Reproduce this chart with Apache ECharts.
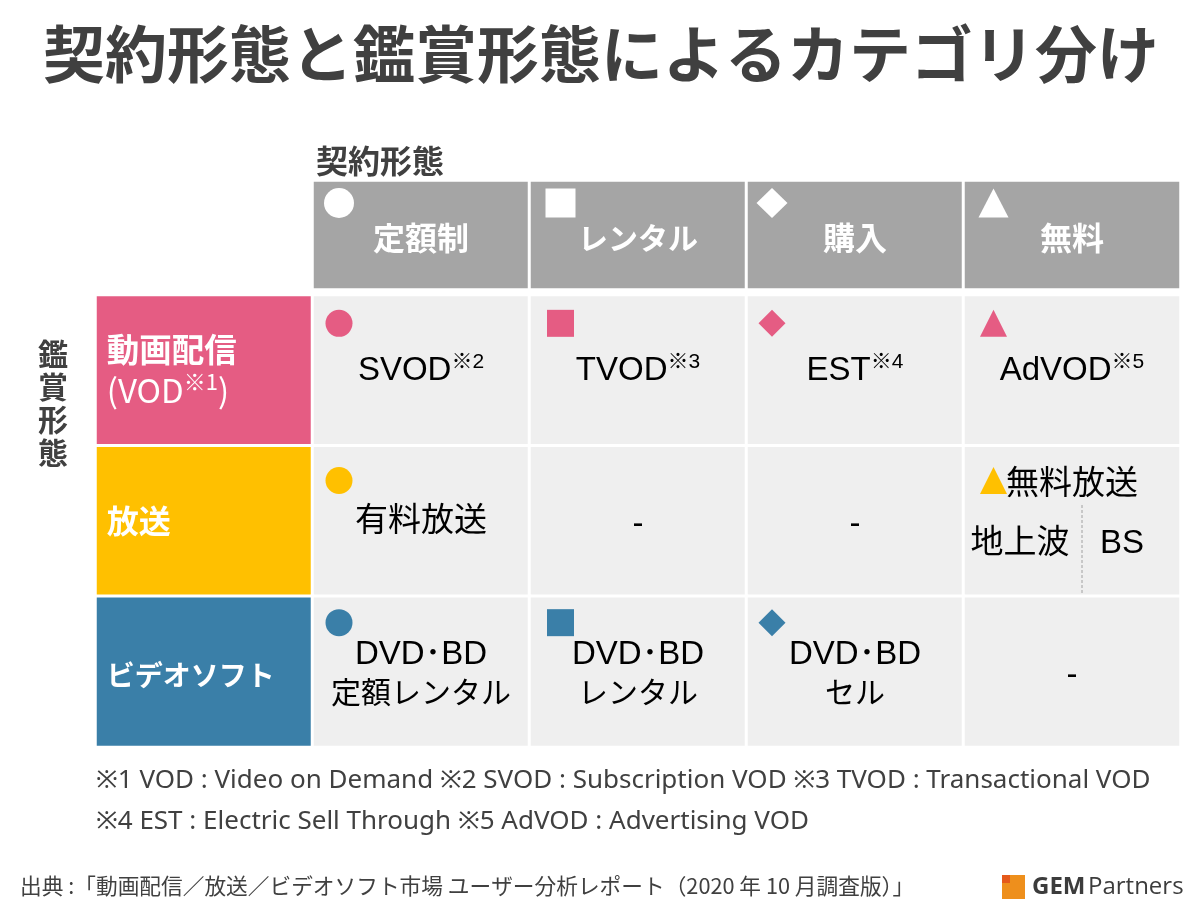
<!DOCTYPE html>
<html>
<head>
<meta charset="utf-8">
<title>契約形態と鑑賞形態によるカテゴリ分け</title>
<script src="https://cdn.jsdelivr.net/npm/echarts@6/dist/echarts.min.js"></script>
<style>
html, body { margin: 0; padding: 0; background: #fff; }
#main { width: 1200px; height: 910px; }
</style>
</head>
<body>
<div id="main"></div>
<script>
// 表の中身
var chartTitle = '契約形態と鑑賞形態によるカテゴリ分け';
var contractName = '契約形態';
var viewingName = '鑑賞形態';
var contractTypes = ['定額制', 'レンタル', '購入', '無料'];
var contractSymbols = ['circle', 'rect', 'diamond', 'triangle'];
var viewingTypes = ['動画配信\n{reg|(VOD}{regSup|※1}{reg|)}', '放送', 'ビデオソフト'];
var viewingColors = ['#e55c83', '#ffc000', '#3a7fa8'];
var cellTexts = [
    ['SVOD{sup|※2}', 'TVOD{sup|※3}', 'EST{sup|※4}', 'AdVOD{sup|※5}'],
    ['有料放送', '-', '-', ''],
    ['DVD･BD\n{kanaS|定額レンタル}', 'DVD･BD\n{kanaS|レンタル}', 'DVD･BD\n{kanaS|セル}', '-']
];
// [契約形態の列, 鑑賞形態の行]
var markedCells = [[0, 0], [1, 0], [2, 0], [3, 0], [0, 1], [3, 1], [0, 2], [1, 2], [2, 2]];
var freeBroadcastTexts = ['無料放送', '地上波', 'BS'];
var footnotes = [
    '※1 VOD : Video on Demand ※2 SVOD : Subscription VOD ※3 TVOD : Transactional VOD',
    '※4 EST : Electric Sell Through ※5 AdVOD : Advertising VOD'
];
var sourceText = '出典 :「動画配信／放送／ビデオソフト市場 ユーザー分析レポート（2020 年 10 月調査版）」';

var bodyCols = ['viewing'].concat(contractTypes);
var rowIndexes = [0, 1, 2];

var jpFont = '"Noto Sans CJK JP", sans-serif';
var cellFont = '"Liberation Sans", "Noto Sans CJK JP", sans-serif';
var noteFont = '"Noto Sans", "Noto Sans CJK JP", sans-serif';
var darkText = '#404040';

// 行ごとのマークの上下位置、列ごとの左右位置
var rowMarkOffset = [-47, -40.5, -49];
var colMarkOffset = [-82, -77.5, -83, -78.5];
var markSize = 27;
var headMarkSizes = { circle: [30, 30], rect: [30, 29], diamond: [31, 30], triangle: [30, 29] };
var headFontSizes = [32, 30, 32, 32];
var viewingFontSizes = [32.5, 32, 28];
var viewingLabelShift = [0, 0, 4];
// 行ごとの文字の上下調整
var cellLabelShift = [1, 1, 3];

var headCells = contractTypes.map(function (name, i) {
    return {
        value: [i, 0, 1], name: name, itemStyle: { color: '#a5a5a5' },
        label: { fontSize: headFontSizes[i] }
    };
});

var bodyCells = [];
rowIndexes.forEach(function (r) {
    bodyCells.push({
        value: [0, r, 1],
        itemStyle: { color: viewingColors[r] },
        label: {
            show: true, position: 'insideLeft', distance: 13, align: 'left',
            formatter: viewingTypes[r], color: '#fff', fontFamily: jpFont, fontWeight: 'bold',
            fontSize: viewingFontSizes[r], lineHeight: 41, offset: [0, viewingLabelShift[r]]
        }
    });
    contractTypes.forEach(function (c, i) {
        var text = cellTexts[r][i];
        bodyCells.push({
            value: [i + 1, r, 1],
            itemStyle: { color: '#efefef' },
            label: {
                show: text !== '', formatter: text,
                offset: [0, text === '-' ? 4 : cellLabelShift[r]]
            }
        });
    });
});

var headMarks = contractTypes.map(function (c, i) {
    var s = contractSymbols[i];
    return { value: [i, 0], symbol: s, symbolSize: headMarkSizes[s], symbolOffset: [colMarkOffset[i], -32] };
});

var bodyMarks = markedCells.map(function (cell) {
    var c = cell[0], r = cell[1], s = contractSymbols[c];
    return {
        value: [c + 1, r],
        symbol: s,
        symbolSize: markSize,
        symbolOffset: [colMarkOffset[c], rowMarkOffset[r]],
        itemStyle: { color: viewingColors[r] }
    };
});

var freeBroadcastOffsets = [[0, -36], [-52, 23], [50, 23]];
var freeBroadcastLabels = freeBroadcastTexts.map(function (t, i) {
    return {
        value: [4, 1],
        symbolSize: 0,
        label: {
            show: true, position: 'inside', formatter: t, offset: freeBroadcastOffsets[i],
            color: '#000', fontFamily: cellFont, fontSize: 33
        }
    };
});

function titleText(text, left, top, size, weight, family, lineHeight) {
    return {
        text: text, left: left, top: top, padding: 0,
        textStyle: {
            color: darkText, fontSize: size, fontWeight: weight,
            fontFamily: family, lineHeight: lineHeight || size * 1.3
        }
    };
}

var chart = echarts.init(document.getElementById('main'));
chart.setOption({
    animation: false,
    backgroundColor: '#fff',
    title: [
        titleText(chartTitle, 43, 14, 62, 'bold', jpFont, 80),
        titleText(contractName, 316, 140, 32, 'bold', jpFont, 42),
        titleText(viewingName.split('').join('\n'), 38, 337, 30, 'bold', jpFont, 33),
        titleText(footnotes[0], 96, 764, 26, 'normal', noteFont, 34),
        titleText(footnotes[1], 96, 805, 26, 'normal', noteFont, 34),
        titleText(sourceText, 20, 872, 21.7, 'normal', jpFont, 28)
    ],
    grid: [
        { left: 312.5, top: 180.5, width: 868, height: 109 },
        { left: 95.5, top: 295, width: 1085, height: 452 }
    ],
    xAxis: [
        { type: 'category', gridIndex: 0, data: contractTypes, show: false },
        { type: 'category', gridIndex: 1, data: bodyCols, show: false }
    ],
    yAxis: [
        { type: 'category', gridIndex: 0, data: ['contract'], show: false },
        { type: 'category', gridIndex: 1, data: rowIndexes, inverse: true, show: false }
    ],
    series: [
        {
            type: 'heatmap', xAxisIndex: 0, yAxisIndex: 0, data: headCells,
            itemStyle: { borderColor: '#fff', borderWidth: 3 },
            emphasis: { disabled: true },
            label: {
                show: true, formatter: '{b}', color: '#fff', fontFamily: jpFont,
                fontWeight: 'bold', fontSize: 32, offset: [0, 3]
            }
        },
        {
            type: 'heatmap', xAxisIndex: 1, yAxisIndex: 1, data: bodyCells,
            itemStyle: { borderColor: '#fff', borderWidth: 3 },
            emphasis: { disabled: true },
            label: {
                show: true, color: '#000', fontFamily: cellFont, fontSize: 33, lineHeight: 40,
                rich: {
                    sup: { fontFamily: cellFont, fontSize: 21, color: '#000', verticalAlign: 'top', lineHeight: 37 },
                    kanaS: { fontFamily: cellFont, fontSize: 30, color: '#000', lineHeight: 40 },
                    reg: { fontFamily: jpFont, fontWeight: 'normal', fontSize: 33, color: '#fff', lineHeight: 41 },
                    regSup: { fontFamily: jpFont, fontWeight: 'normal', fontSize: 22, color: '#fff', verticalAlign: 'top', lineHeight: 36 }
                }
            }
        },
        {
            type: 'scatter', xAxisIndex: 0, yAxisIndex: 0, data: headMarks, z: 5,
            itemStyle: { color: '#fff', opacity: 1 }, silent: true
        },
        {
            type: 'scatter', xAxisIndex: 1, yAxisIndex: 1, data: bodyMarks, z: 5,
            itemStyle: { opacity: 1 }, silent: true
        },
        {
            type: 'scatter', xAxisIndex: 1, yAxisIndex: 1, data: freeBroadcastLabels, z: 6,
            itemStyle: { opacity: 1 }, silent: true
        },
        {
            // 地上波とBSの間の点線
            type: 'custom', xAxisIndex: 1, yAxisIndex: 1, data: [[4, 1]], z: 6, silent: true,
            renderItem: function (params, api) {
                var p = api.coord([api.value(0), api.value(1)]);
                var h = api.size([1, 1])[1];
                return {
                    type: 'line',
                    shape: { x1: p[0] + 10, y1: p[1] - 16, x2: p[0] + 10, y2: p[1] + h / 2 - 1.5 },
                    style: { stroke: '#a0a0a0', lineWidth: 1, lineDash: [3, 2] }
                };
            }
        }
    ],
    graphic: [
        { type: 'rect', shape: { x: 1002, y: 875, width: 23, height: 24 }, style: { fill: '#ee8f1c' } },
        { type: 'rect', shape: { x: 1002, y: 875, width: 8, height: 8 }, style: { fill: '#e5591a' } },
        { type: 'text', x: 1032, y: 887, style: { text: 'GEM', fill: '#3c3c3c', font: 'bold 24px "Open Sans"', verticalAlign: 'middle' } },
        { type: 'text', x: 1088, y: 887, style: { text: 'Partners', fill: '#3c3c3c', font: '24px "Open Sans"', verticalAlign: 'middle' } }
    ]
});
</script>
</body>
</html>
